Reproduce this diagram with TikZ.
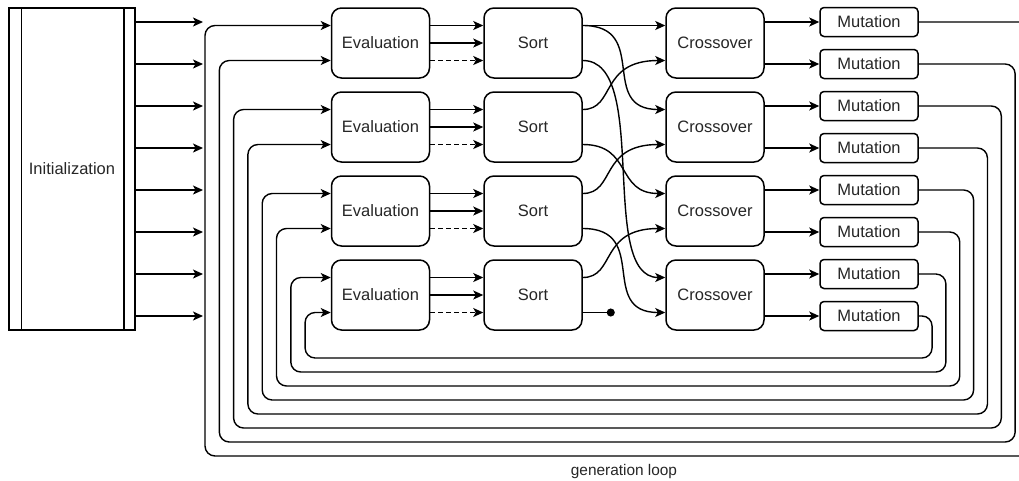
\documentclass[tikz,border=0pt]{standalone}
\usepackage{fontspec}
\setmainfont{Liberation Sans}
\usetikzlibrary{arrows.meta}
\tikzset{
  box/.style={draw, line width=1.5pt, rounded corners=10pt, minimum width=98pt,
    minimum height=70pt, inner sep=0pt, text=black!85, font=\fontsize{16.5}{20}\selectfont},
  mutbox/.style={box, rounded corners=4pt, minimum height=29pt},
  link/.style={line width=1.4pt, -{Stealth[length=10pt, width=9pt, inset=2.5pt]}},
  back/.style={link, rounded corners=10pt},
}
\begin{document}
\begin{tikzpicture}[x=1pt, y=-1pt]
  \useasboundingbox (0,0) rectangle (1019,480);
  \clip (0,0) rectangle (1019,480);
  \node[box, rounded corners=0pt, minimum width=126pt, minimum height=322pt] (init) at (72,169) {Initialization};
  \draw[line width=1.5pt]
    ([xshift=13pt]init.north west) -- ([xshift=13pt]init.south west)
    ([xshift=-12pt]init.north east) -- ([xshift=-12pt]init.south east);
  \foreach \k in {1,...,8} {
    \coordinate (in\k) at (203,{22+42*(\k-1)});
    \draw[link] (init.east |- in\k) -- (in\k);
  }
  \foreach \i in {1,...,4} {
    \node[box] (eval\i) at (380.5,{43+84*(\i-1)}) {Evaluation};
    \node[box] (sort\i) at (533,{43+84*(\i-1)}) {Sort};
    \node[box] (cross\i) at (715,{43+84*(\i-1)}) {Crossover};
    \draw[link] ([yshift=17.5pt]eval\i.east) -- ([yshift=17.5pt]sort\i.west);
    \draw[link] (eval\i) -- (sort\i);
    \draw[link, dash pattern=on 5pt off 3pt] ([yshift=-17.5pt]eval\i.east) -- ([yshift=-17.5pt]sort\i.west);
  }
  \foreach \k in {1,...,8} {
    \pgfmathtruncatemacro\row{(\k+1)/2}
    \node[mutbox] (mut\k) at (869,{22+42*(\k-1)}) {Mutation};
    \draw[link] (cross\row.east |- mut\k) -- (mut\k);
  }
  % generation loop
  \foreach \k in {1,...,8} {
    \pgfmathtruncatemacro\row{(\k+1)/2}
    \pgfmathsetmacro\off{35*mod(\k,2)-17.5}
    \draw[back] (mut\k.east) -| ({1029-13.85*(\k-1)},{456-14*(\k-1)})
      -- ({205+14.3*(\k-1)},{456-14*(\k-1)}) |- ([yshift=\off pt]eval\row.west);
  }
  \draw[link] ([yshift=17.5pt]sort1.east) -- ([yshift=17.5pt]cross1.west);
  \draw[link] ([yshift=17.5pt]sort1.east) .. controls +(68,0) and +(-68,0) .. ([yshift=17.5pt]cross2.west);
  \draw[link] ([yshift=-17.5pt]sort1.east) .. controls +(68,0) and +(-68,0) .. ([yshift=17.5pt]cross4.west);
  \draw[link] ([yshift=17.5pt]sort2.east) .. controls +(33,0) and +(-66,0) .. ([yshift=-17.5pt]cross1.west);
  \draw[link] ([yshift=-17.5pt]sort2.east) .. controls +(50,0) and +(-50,0) .. ([yshift=17.5pt]cross3.west);
  \draw[link] ([yshift=17.5pt]sort3.east) .. controls +(33,0) and +(-66,0) .. ([yshift=-17.5pt]cross2.west);
  \draw[link] ([yshift=-17.5pt]sort3.east) .. controls +(68,0) and +(-68,0) .. ([yshift=-17.5pt]cross4.west);
  \draw[link] ([yshift=17.5pt]sort4.east) .. controls +(33,0) and +(-66,0) .. ([yshift=-17.5pt]cross3.west);
  \coordinate (dead) at ([xshift=32pt,yshift=-17.5pt]sort4.east);
  \draw[line width=1.4pt, -{Circle[length=8pt]}] ([yshift=-17.5pt]sort4.east) -- (dead);
  \node[font=\fontsize{15.4}{18}\selectfont, text=black!85] (genlabel) at (624,472) {generation loop};
\end{tikzpicture}
\end{document}
